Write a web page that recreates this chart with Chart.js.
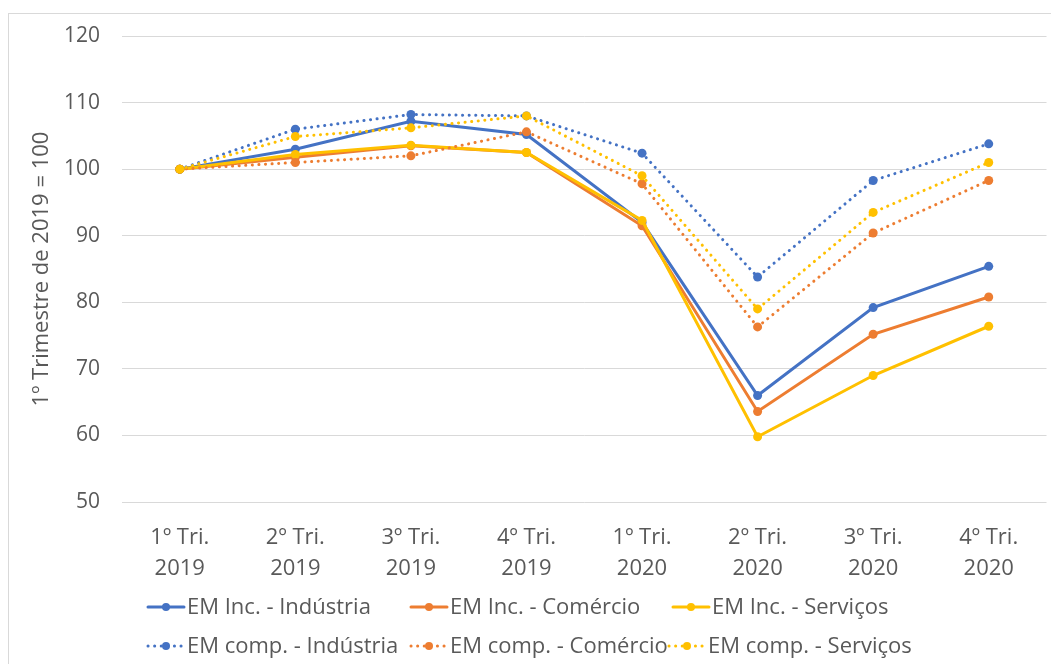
<!DOCTYPE html>
<html>
<head>
<meta charset="utf-8">
<script src="https://cdn.jsdelivr.net/npm/chart.js@4/dist/chart.umd.min.js"></script>
<style>
  html, body { margin: 0; padding: 0; background: #fff; }
  #wrap { width: 1051px; height: 664px; position: relative; overflow: hidden; }
  #wrap::after { content: ''; position: absolute; left: 8px; top: 13px; width: 1100px; height: 700px;
                 border-left: 1px solid #d9d9d9; border-top: 1px solid #d9d9d9; pointer-events: none; }
</style>
</head>
<body>
<div id="wrap"><canvas id="chart" width="1051" height="664"></canvas></div>
<script>
const categories = [
    ['1º Tri.', '2019'], ['2º Tri.', '2019'], ['3º Tri.', '2019'], ['4º Tri.', '2019'],
    ['1º Tri.', '2020'], ['2º Tri.', '2020'], ['3º Tri.', '2020'], ['4º Tri.', '2020']
];
const incIndustria = [100, 103.0, 107.2, 105.2, 92.0, 66.0, 79.2, 85.4];
const incComercio = [100, 101.8, 103.5, 102.5, 91.5, 63.6, 75.2, 80.8];
const incServicos = [100, 102.2, 103.6, 102.5, 92.3, 59.8, 69.0, 76.4];
const compIndustria = [100, 106.0, 108.2, 108.0, 102.4, 83.8, 98.3, 103.8];
const compComercio = [100, 101.0, 102.0, 105.6, 97.8, 76.3, 90.4, 98.3];
const compServicos = [100, 104.9, 106.2, 108.0, 99.0, 79.0, 93.5, 101.0];
const yTicks = { min: 50, max: 120, step: 10 };

const blue = '#4472C4', orange = '#ED7D31', yellow = '#FFC000';
const textColor = '#595959';
const fontFamily = '"Open Sans", "Noto Sans", sans-serif';

function series(label, data, color, dotted, i) {
    return {
        label: label,
        data: data,
        borderColor: color,
        backgroundColor: color,
        borderWidth: 3,
        borderDash: dotted ? [0.1, 6.5] : [],
        borderCapStyle: 'round',
        pointRadius: 4.5,
        pointHoverRadius: 4.5,
        pointBorderWidth: 0,
        tension: 0,
        order: 5 - i
    };
}

// legend drawn by hand so the two rows line up in columns
const legendPlugin = {
    id: 'gridLegend',
    afterDraw(chart) {
        const ctx = chart.ctx;
        const cols = [148, 411, 673];
        const rows = [607, 646];
        ctx.save();
        ctx.font = '22px ' + fontFamily;
        ctx.textBaseline = 'middle';
        chart.data.datasets.forEach(function (ds, i) {
            const x = cols[i % 3] - (i >= 3 && i % 3 === 2 ? 4 : 0);
            const y = rows[Math.floor(i / 3)];
            ctx.strokeStyle = ds.borderColor;
            ctx.fillStyle = ds.borderColor;
            ctx.lineWidth = 3;
            ctx.lineCap = 'round';
            ctx.setLineDash(ds.borderDash);
            ctx.beginPath();
            ctx.moveTo(x, y);
            ctx.lineTo(x + 36, y);
            ctx.stroke();
            ctx.setLineDash([]);
            ctx.beginPath();
            ctx.arc(x + 18, y, 4, 0, Math.PI * 2);
            ctx.fill();
            ctx.fillStyle = textColor;
            ctx.fillText(ds.label, x + 39, y + 1);
        });
        ctx.restore();
    }
};

const ctx = document.getElementById('chart').getContext('2d');
const chart = new Chart(ctx, {
    type: 'line',
    data: {
        labels: categories,
        datasets: [
            series('EM Inc. - Indústria', incIndustria, blue, false, 0),
            series('EM Inc. - Comércio', incComercio, orange, false, 1),
            series('EM Inc. - Serviços', incServicos, yellow, false, 2),
            series('EM comp. - Indústria', compIndustria, blue, true, 3),
            series('EM comp. - Comércio', compComercio, orange, true, 4),
            series('EM comp. - Serviços', compServicos, yellow, true, 5)
        ]
    },
    options: {
        responsive: false,
        animation: false,
        layout: { padding: { top: 36, right: 1, bottom: 72, left: 0 } },
        scales: {
            x: {
                offset: true,
                grid: { display: false },
                border: { display: false },
                ticks: {
                    color: textColor,
                    font: { family: fontFamily, size: 22, lineHeight: 1.41 },
                    padding: 12,
                    maxRotation: 0
                },
                afterFit: function (scale) { scale.height = 90; }
            },
            y: {
                min: yTicks.min,
                max: yTicks.max,
                grid: { color: '#d9d9d9', drawTicks: false, lineWidth: 1 },
                border: { display: false },
                ticks: {
                    stepSize: yTicks.step,
                    color: textColor,
                    font: { family: fontFamily, size: 21 },
                    padding: 22
                },
                title: {
                    display: true,
                    text: '1º Trimestre de 2019 = 100',
                    color: textColor,
                    font: { family: fontFamily, size: 22 },
                    padding: { top: 29, bottom: 0 }
                },
                afterFit: function (scale) { scale.width = 122; }
            }
        },
        plugins: {
            legend: { display: false },
            tooltip: { enabled: false }
        }
    },
    plugins: [legendPlugin]
});
</script>
</body>
</html>
